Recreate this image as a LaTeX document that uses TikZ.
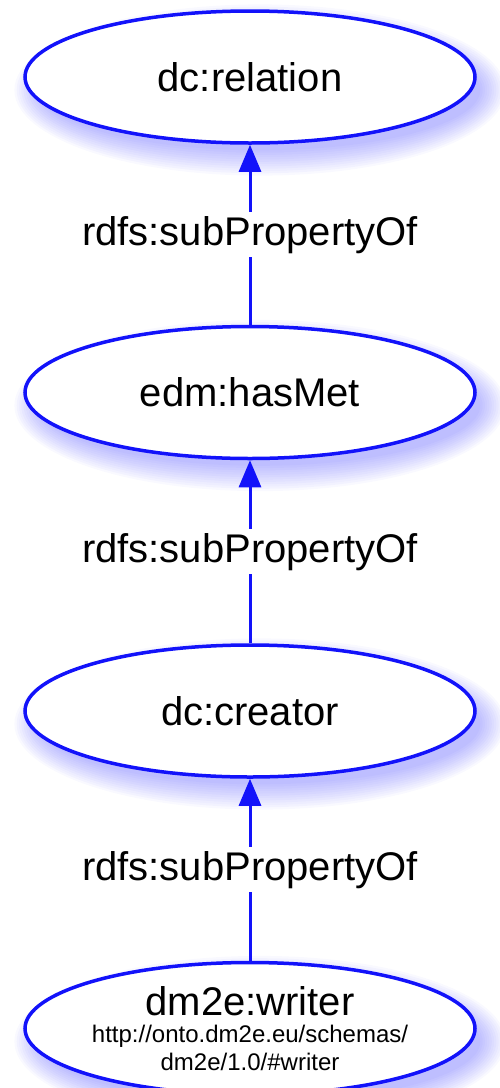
\documentclass[tikz,border=0pt]{standalone}
\usepackage{fontspec}
\setmainfont{Liberation Sans}
\usetikzlibrary{arrows.meta}
\usetikzlibrary{calc,positioning,shapes.geometric,backgrounds}
\definecolor{edgeblue}{RGB}{18,18,250}
\tikzset{%
  >={Triangle[width=22pt,length=27pt]},
  % Specifications for style of nodes:
  prop/.style = {ellipse, draw=edgeblue, line width=3.5pt, fill=white,
    minimum width=450pt, minimum height=132pt, inner sep=0pt,
    font=\fontsize{40}{46}\selectfont},
  rel/.style = {fill=white, inner sep=4pt,
    font=\fontsize{40}{46}\selectfont},
  link/.style = {->, draw=edgeblue, line width=3pt},
  halo/.style = {fill=blue!80, opacity=0.03},
}

\begin{document}
\begin{tikzpicture}[x=1pt,y=1pt]
  \useasboundingbox (0,0) rectangle (499,-1088);
  % Specification of nodes (position, etc.)
  \node(Rel)[prop] at (250,-77) {dc:relation};
  \node(Met)[prop,below=180pt of Rel]{edm:hasMet};
  \node(Cre)[prop,below=183pt of Met]{dc:creator};
  \node(Wri)[prop,below=182pt of Cre,align=center,
    font=\fontsize{24}{27.5}\selectfont]{%
    {\fontsize{40}{46}\selectfont dm2e:writer}\\
    http://onto.dm2e.eu/schemas/\\
    dm2e/1.0/\#writer};
  \draw[link](Met) -- node[rel]{rdfs:subPropertyOf} (Rel);
  \draw[link](Cre) -- node[rel]{rdfs:subPropertyOf} (Met);
  \draw[link](Wri) -- node[rel]{rdfs:subPropertyOf} (Cre);
  % soft blue shadows
  \begin{scope}[on background layer]
    \foreach \n in {Rel,Met,Cre,Wri}
      \foreach \i in {1,...,12}
        \fill[halo] ($(\n)+(10,-13)$) ellipse ({218+2.3*\i} and {58+2.3*\i});
  \end{scope}
\end{tikzpicture}
\end{document}
